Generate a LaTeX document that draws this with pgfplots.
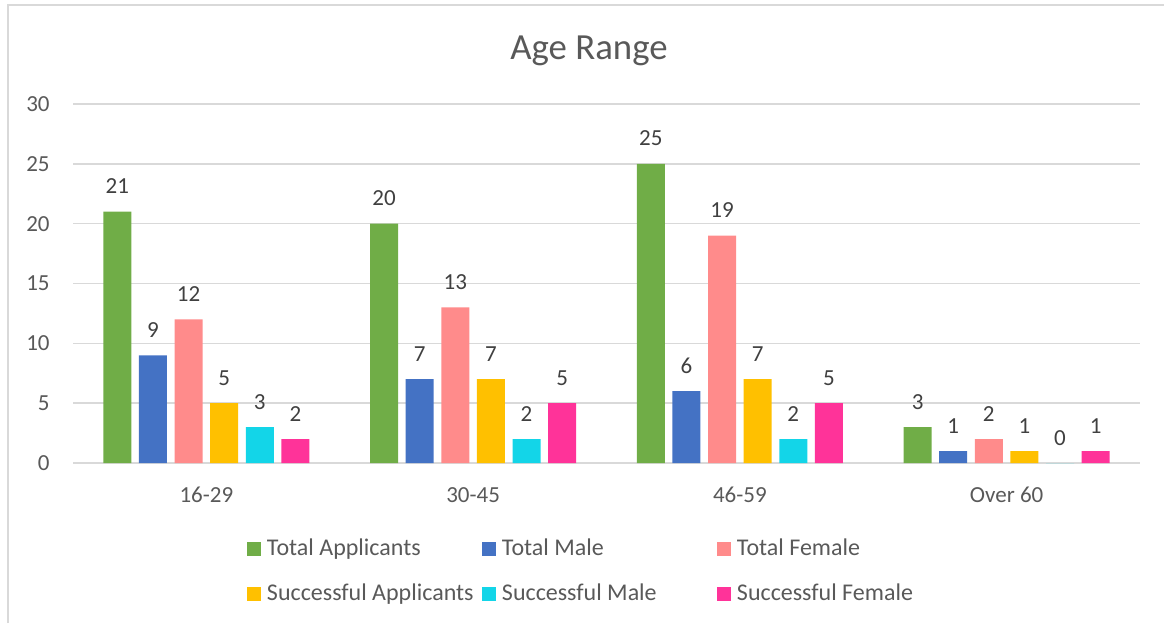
\documentclass[border=0pt]{standalone}
\usepackage{fontspec}
\setmainfont{Carlito}
\usepackage{pgfplots}
\pgfplotsset{compat=1.18}
\definecolor{cA}{HTML}{70AD47}
\definecolor{cB}{HTML}{4472C4}
\definecolor{cC}{HTML}{FF8B8B}
\definecolor{cD}{HTML}{FFC000}
\definecolor{cE}{HTML}{13D5E8}
\definecolor{cF}{HTML}{FF3399}
\definecolor{txt}{HTML}{595959}
\definecolor{numc}{HTML}{404040}
\definecolor{gridc}{HTML}{D9D9D9}
\newcommand\legtxt[1]{\makebox[110.5pt][l]{\rule[-3pt]{0pt}{15pt}\hspace{3pt}#1}}
\newcommand\sfont{\fontsize{11.5}{13}\selectfont}
\newcommand\lfont{\fontsize{12}{14}\selectfont}
\begin{document}
\begin{tikzpicture}
\begin{axis}[
  at={(0,0)}, anchor=south west,
  scale only axis, width=533.5pt, height=179.5pt,
  xmin=-0.5, xmax=3.5, ymin=0, ymax=30,
  ybar=3.8pt, bar width=14pt,
  xtick={0,1,2,3}, xticklabels={16-29,30-45,46-59,Over 60},
  ytick={0,5,...,30},
  axis line style={draw=none},
  major tick length=0pt,
  ymajorgrids, grid style={gridc, line width=0.8pt},
  /pgf/number format/assume math mode=true,
  tick label style={font=\sfont, text=txt},
  yticklabel style={anchor=east, inner sep=0pt, xshift=-11.5pt},
  xticklabel style={anchor=base, inner sep=0pt, yshift=-19.5pt},
  nodes near coords,
  every node near coord/.append style={font=\sfont, text=numc, anchor=base, inner sep=0pt, yshift=9pt},
  legend cell align=left,
  legend columns=3,
  legend image code/.code={\path[#1] (0pt,0pt) rectangle (7pt,7pt);},
  legend style={draw=none, fill=none, inner sep=0pt, outer sep=0pt,
    at={(0.16307,-0.19164)}, anchor=north west,
    /tikz/column sep=0pt, /tikz/row sep=9pt,
    nodes={inner sep=0pt, anchor=base west, font=\lfont, text=txt}},
  clip=false,
]
\addplot[fill=cA, draw=none] coordinates {(0,21) (1,20) (2,25) (3,3)};
\addlegendentry{\legtxt{Total Applicants}}
\addplot[fill=cB, draw=none] coordinates {(0,9) (1,7) (2,6) (3,1)};
\addlegendentry{\legtxt{Total Male}}
\addplot[fill=cC, draw=none] coordinates {(0,12) (1,13) (2,19) (3,2)};
\addlegendentry{\legtxt{Total Female}}
\addplot[fill=cD, draw=none] coordinates {(0,5) (1,7) (2,7) (3,1)};
\addlegendentry{\legtxt{Successful Applicants}}
\addplot[fill=cE, draw=none] coordinates {(0,3) (1,2) (2,2) (3,0)};
\addlegendentry{\legtxt{Successful Male}}
\addplot[fill=cF, draw=none] coordinates {(0,2) (1,5) (2,5) (3,1)};
\addlegendentry{\legtxt{Successful Female}}
\end{axis}
\node[anchor=base, font=\fontsize{18.4}{22}\selectfont, text=txt, inner sep=0pt] at (258pt,202pt) {Age Range};
\draw[gridc, line width=0.9pt] (-32.5pt,-80pt) -- (-32.5pt,229pt) -- (545.5pt,229pt);
\pgfresetboundingbox
\path[use as bounding box] (-36.5pt,-80pt) rectangle (545.5pt,231.5pt);
\end{tikzpicture}
\end{document}
